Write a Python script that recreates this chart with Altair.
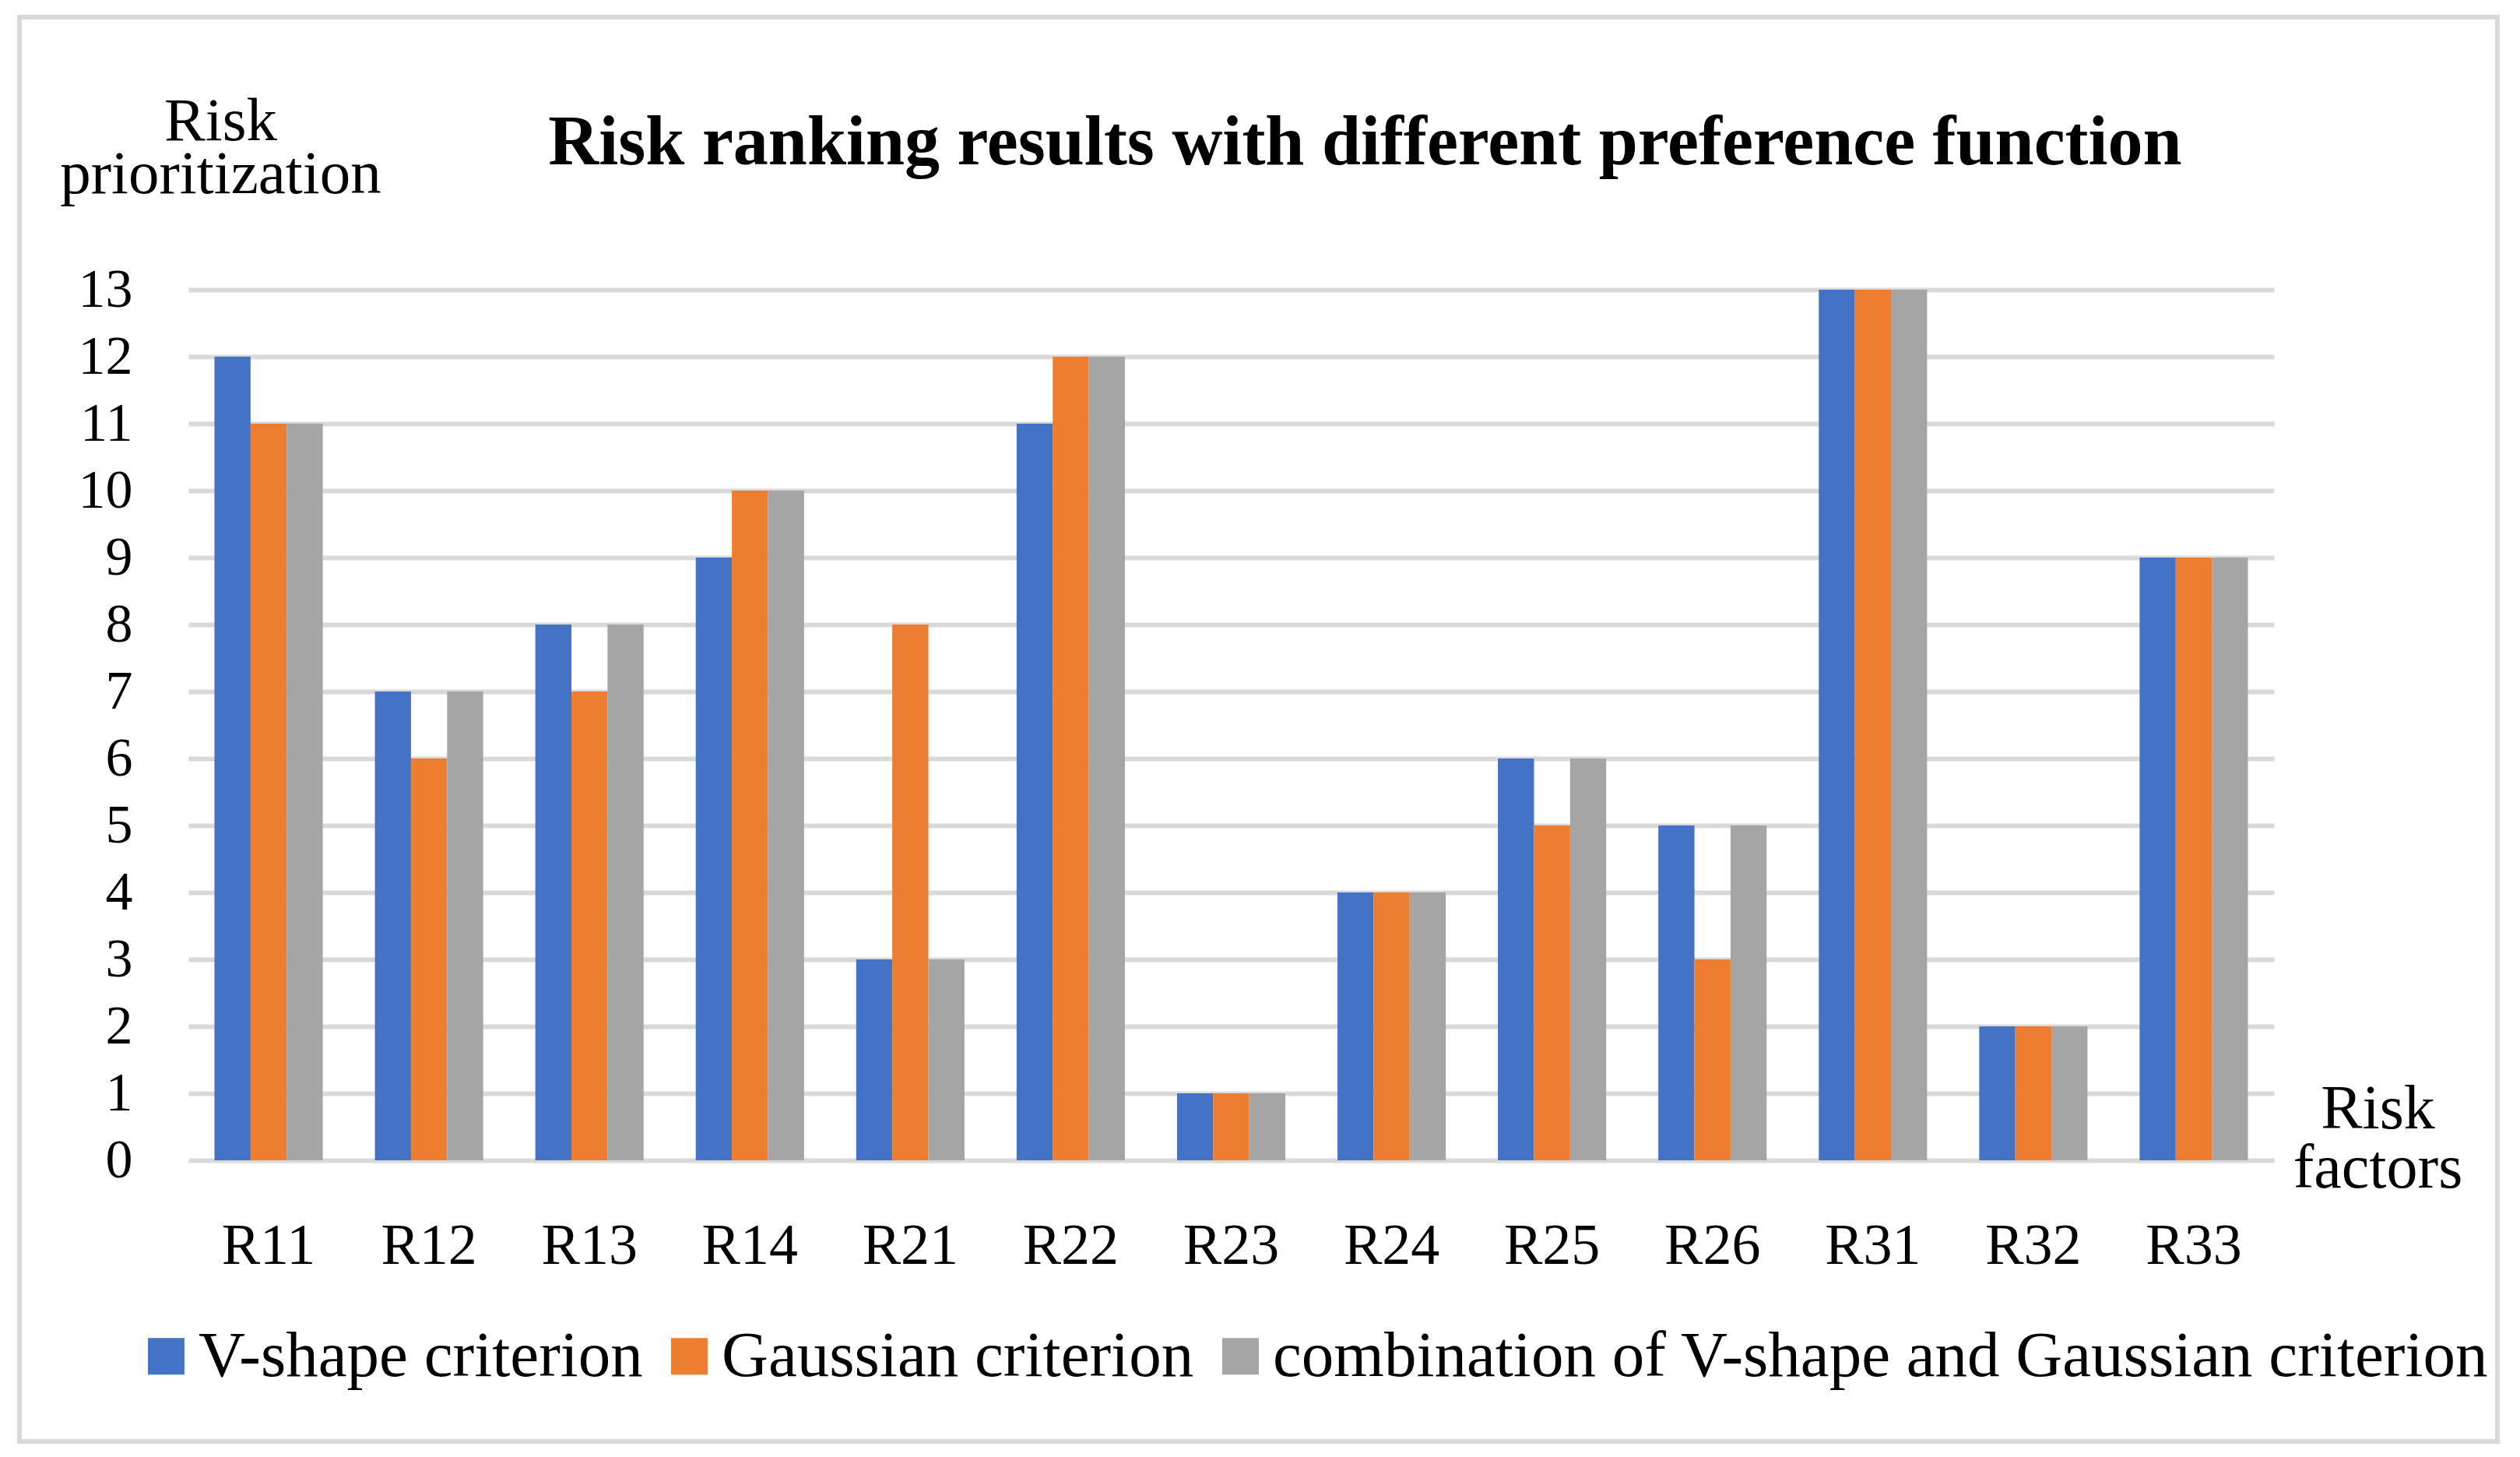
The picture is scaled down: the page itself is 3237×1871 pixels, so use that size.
import altair as alt
import pandas as pd

categories = ["R11", "R12", "R13", "R14", "R21", "R22", "R23", "R24", "R25", "R26", "R31", "R32", "R33"]
v_shape = [12, 7, 8, 9, 3, 11, 1, 4, 6, 5, 13, 2, 9]
gaussian = [11, 6, 7, 10, 8, 12, 1, 4, 5, 3, 13, 2, 9]
combination = [11, 7, 8, 10, 3, 12, 1, 4, 6, 5, 13, 2, 9]
series_names = [
    "V-shape criterion",
    "Gaussian criterion",
    "combination of V-shape and Gaussian criterion",
]
colors = ["#4472C4", "#ED7D31", "#A5A5A5"]
y_ticks = list(range(0, 14))

rows = []
for name, vals in zip(series_names, [v_shape, gaussian, combination]):
    for c, v in zip(categories, vals):
        rows.append({"factor": c, "series": name, "rank": v})
df = pd.DataFrame(rows)

FONT = "Liberation Serif"
W, H = 2679, 1118

bars = alt.Chart(df).mark_bar().encode(
    x=alt.X(
        "factor:N",
        sort=categories,
        scale=alt.Scale(paddingInner=0.325, paddingOuter=0.1625),
        axis=alt.Axis(
            labelAngle=0,
            labelFontSize=74,
            labelFont=FONT,
            labelColor="#000000",
            labelPadding=74,
            domain=False,
            ticks=False,
            tickSize=0,
            grid=False,
            title=["Risk", "factors"],
            titleFont=FONT,
            titleFontSize=80,
            titleFontWeight="normal",
            titleColor="#000000",
            titleAngle=0,
            titleAlign="center",
            titleBaseline="alphabetic",
            titleX=2812,
            titleY=-42,
            titleLineHeight=76,
        ),
    ),
    xOffset=alt.XOffset(
        "series:N",
        sort=series_names,
        scale=alt.Scale(paddingInner=0, paddingOuter=0),
    ),
    y=alt.Y(
        "rank:Q",
        scale=alt.Scale(domain=[0, 13], nice=False),
        axis=alt.Axis(
            values=y_ticks,
            labelFontSize=70,
            labelFont=FONT,
            labelColor="#000000",
            labelPadding=72,
            domain=False,
            ticks=False,
            tickSize=0,
            grid=True,
            gridColor="#D9D9D9",
            gridWidth=6,
            title=["Risk", "prioritization"],
            titleFont=FONT,
            titleFontSize=79,
            titleFontWeight="normal",
            titleColor="#000000",
            titleAngle=0,
            titleAlign="center",
            titleBaseline="alphabetic",
            titleX=41,
            titleY=-193,
            titleLineHeight=68,
        ),
    ),
    color=alt.Color(
        "series:N",
        sort=series_names,
        scale=alt.Scale(domain=series_names, range=colors),
        legend=alt.Legend(
            title=None,
            orient="none",
            legendX=-70,
            legendY=1328,
            direction="horizontal",
            symbolType="square",
            symbolSize=2200,
            symbolStrokeWidth=0,
            labelFont=FONT,
            labelFontSize=83,
            labelColor="#000000",
            labelLimit=3000,
            labelOffset=0,
            columnPadding=18,
            padding=0,
        ),
    ),
)

frame = alt.Chart(pd.DataFrame({"k": [0]})).mark_rect(
    fillOpacity=0, stroke="#D9D9D9", strokeWidth=6
).encode(
    x=alt.value(-217), x2=alt.value(2966), y=alt.value(-350), y2=alt.value(1479)
)

chart = alt.layer(frame, bars).properties(
    width=W,
    height=H,
    padding={"left": 234, "top": 364, "right": 308, "bottom": 373},
    autosize=alt.AutoSizeParams(type="none"),
    title=alt.TitleParams(
        text="Risk ranking results with different preference function",
        font=FONT,
        fontSize=90,
        fontWeight="bold",
        color="#000000",
        anchor="middle",
        frame="group",
        dx=172,
        dy=215,
    ),
).configure_view(stroke="transparent")

chart.save("out.html", embed_options={"renderer": "svg", "actions": False})
